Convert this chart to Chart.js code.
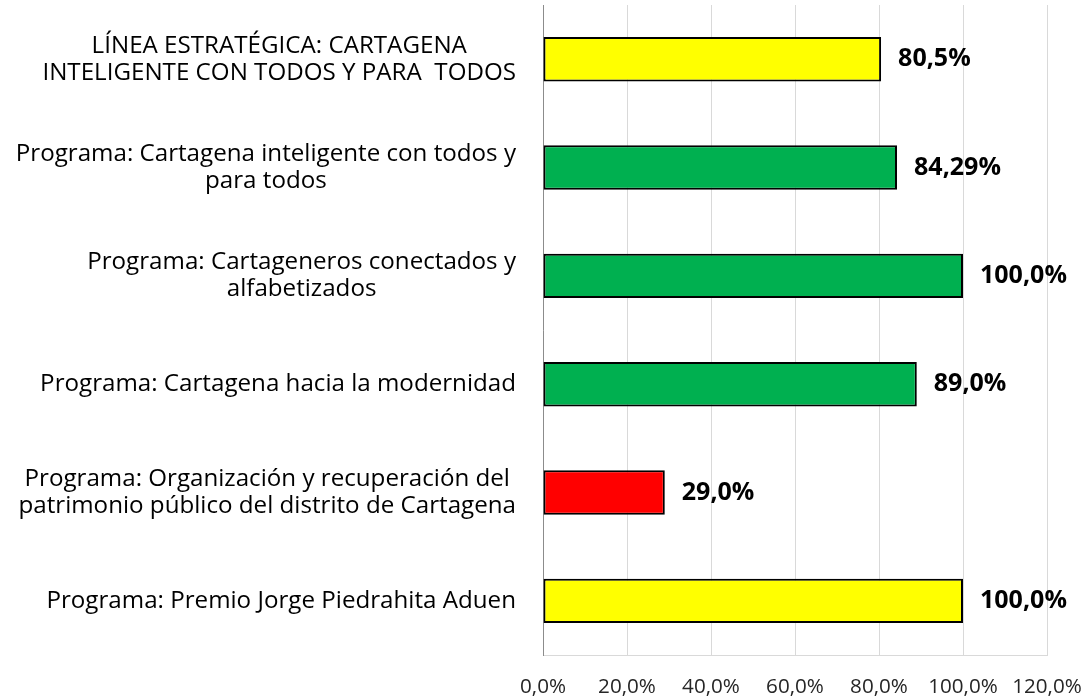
<!DOCTYPE html>
<html><head><meta charset="utf-8">
<script src="https://cdn.jsdelivr.net/npm/chart.js@4/dist/chart.umd.min.js"></script>
<style>html,body{margin:0;padding:0;background:#fff;}#wrap{width:1089px;height:698px;}</style>
</head><body><div id="wrap"><canvas id="c" width="1089" height="698"></canvas></div>
<script>
const categories = [
  ["LÍNEA ESTRATÉGICA: CARTAGENA", "INTELIGENTE CON TODOS Y PARA  TODOS"],
  ["Programa: Cartagena inteligente con todos y", "para todos"],
  ["Programa: Cartageneros conectados y", "alfabetizados"],
  ["Programa: Cartagena hacia la modernidad"],
  ["Programa: Organización y recuperación del", "patrimonio público del distrito de Cartagena"],
  ["Programa: Premio Jorge Piedrahita Aduen"]
];
const values = [80.5, 84.29, 100.0, 89.0, 29.0, 100.0];
const valueLabels = ["80,5%", "84,29%", "100,0%", "89,0%", "29,0%", "100,0%"];
const barColors = ["#FFFF00", "#00B050", "#00B050", "#00B050", "#FF0000", "#FFFF00"];
const xTicks = [0, 20, 40, 60, 80, 100, 120];

const FONT = "'Open Sans', Lato, sans-serif";

// fit font sizes to the widths seen in the reference
const mctx = document.createElement('canvas').getContext('2d');
function fitSize(text, weight, target) {
  mctx.font = weight + " 100px " + FONT;
  return 100 * target / mctx.measureText(text).width;
}
const labelSize = fitSize("Programa: Cartagena hacia la modernidad", "normal", 476);
const valueSize = fitSize("100,0%", "bold", 87);
const tickSize = fitSize("0,0%", "normal", 46);

const yLabelPlugin = {
  id: 'yLabels',
  afterDraw(chart) {
    const ctx = chart.ctx, ys = chart.scales.y;
    ctx.save();
    ctx.font = labelSize + "px " + FONT;
    ctx.fillStyle = "#000";
    ctx.textAlign = "center";
    ctx.textBaseline = "middle";
    const lh = 27;
    categories.forEach((lines, i) => {
      const yc = ys.getPixelForTick(i);
      const maxW = Math.max(...lines.map(l => ctx.measureText(l).width));
      const cx = 516 - maxW / 2;
      const y0 = yc - (lines.length - 1) * lh / 2;
      lines.forEach((l, j) => ctx.fillText(l, cx, y0 + j * lh));
    });
    ctx.restore();
  }
};

const valuePlugin = {
  id: 'valueLabels',
  afterDatasetsDraw(chart) {
    const ctx = chart.ctx;
    const meta = chart.getDatasetMeta(0);
    ctx.save();
    ctx.font = "bold " + valueSize + "px " + FONT;
    ctx.fillStyle = "#000";
    ctx.textAlign = "left";
    ctx.textBaseline = "middle";
    meta.data.forEach((bar, i) => {
      ctx.fillText(valueLabels[i], bar.x + 17, bar.y);
    });
    ctx.restore();
  }
};

new Chart(document.getElementById('c'), {
  type: 'bar',
  data: {
    labels: categories.map(l => l.join(' ')),
    datasets: [{
      data: values,
      backgroundColor: barColors,
      borderColor: "#000",
      borderWidth: 2,
      borderSkipped: false,
      barPercentage: 0.41,
      categoryPercentage: 1.0
    }]
  },
  options: {
    indexAxis: 'y',
    responsive: false,
    animation: false,
    layout: { padding: { top: 5, right: 42, left: 0, bottom: 0 } },
    plugins: { legend: { display: false }, tooltip: { enabled: false } },
    scales: {
      x: {
        min: 0, max: 120,
        afterBuildTicks(scale) { scale.ticks = xTicks.map(v => ({ value: v })); },
        afterFit(scale) { scale.height = 43; scale.paddingRight = 0; scale.paddingLeft = 0; },
        grid: { color: "#D9D9D9", lineWidth: 1, drawTicks: false },
        border: { color: "#D9D9D9" },
        ticks: {
          padding: 20,
          maxRotation: 0,
          font: { family: FONT, size: tickSize },
          color: "#262626",
          callback: v => v.toFixed(1).replace('.', ',') + '%'
        }
      },
      y: {
        afterFit(scale) { scale.width = 543; },
        grid: { display: false, drawTicks: false },
        border: { color: "#8C8C8C", lineWidth: 1 },
        ticks: { display: false }
      }
    }
  },
  plugins: [yLabelPlugin, valuePlugin]
});
</script>
</body></html>
